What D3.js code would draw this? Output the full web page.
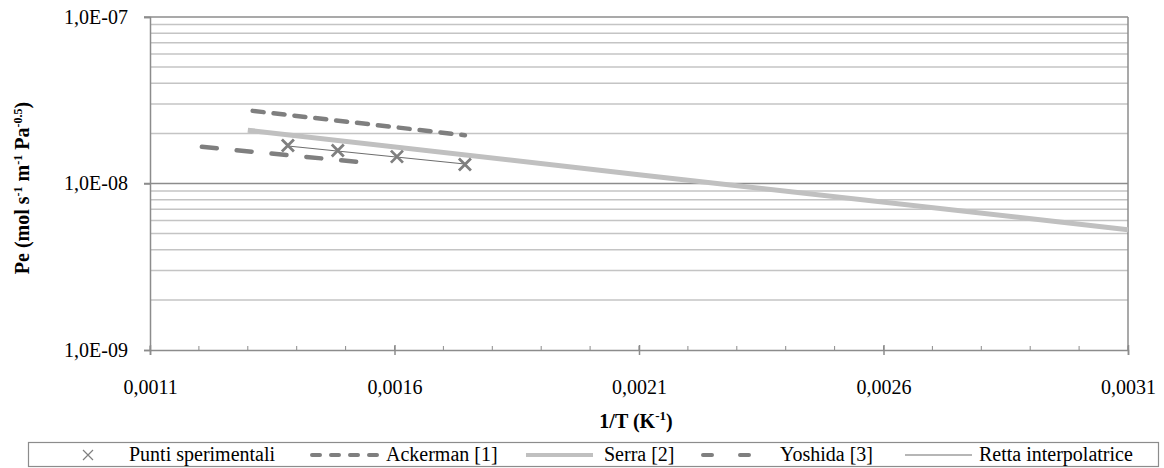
<!DOCTYPE html>
<html>
<head>
<meta charset="utf-8">
<script src="https://cdn.jsdelivr.net/npm/d3@7"></script>
<style>
  body { margin: 0; background: #fff; }
</style>
</head>
<body>
<svg id="chart"></svg>
<script>
// data
var xTicks = [0.0011, 0.0016, 0.0021, 0.0026, 0.0031],
  yTicks = [1e-9, 1e-8, 1e-7],
  puntiX = [0.001382, 0.001484, 0.001605, 0.001744],
  puntiY = [1.69e-8, 1.58e-8, 1.45e-8, 1.30e-8],
  rettaX = [0.001382, 0.001744],
  rettaY = [1.68e-8, 1.31e-8],
  ackermanX = [0.00131, 0.001744],
  ackermanY = [2.73e-8, 1.95e-8],
  serraX = [0.0013, 0.0021, 0.0031],
  serraY = [2.09e-8, 1.13e-8, 5.28e-9],
  yoshidaX = [0.001206, 0.001534],
  yoshidaY = [1.66e-8, 1.34e-8];

var FONT = 'Liberation Serif, DejaVu Serif, Times New Roman, serif';

var width = 1164,
  height = 468,
  margin = { top: 17, right: 36, bottom: 118, left: 150 },
  svg = d3.select('#chart').attr('width', width).attr('height', height)
    .attr('font-family', FONT);

var x = d3.scaleLinear().domain([0.0011, 0.0031]).range([margin.left, width - margin.right]),
  y = d3.scaleLog().domain([1e-9, 1e-7]).range([height - margin.bottom, margin.top]);

var fmtX = (d) => d3.format('.4f')(d).replace('.', ','),
  fmtY = (d) => '1,0E-' + String(-Math.round(Math.log10(d))).padStart(2, '0');

// minor gridlines 2..9 per decade
var minor = [];
[1e-9, 1e-8].forEach((b) => { for (var k = 2; k <= 9; k++) minor.push(b * k); });

svg.append('g').selectAll('line').data(minor).enter().append('line')
  .attr('x1', x.range()[0]).attr('x2', x.range()[1])
  .attr('y1', (d) => y(d)).attr('y2', (d) => y(d))
  .attr('stroke', '#c4c4c4').attr('stroke-width', 1.5);

svg.append('g').selectAll('line').data(yTicks.slice(1)).enter().append('line')
  .attr('x1', x.range()[0] - 6).attr('x2', x.range()[1])
  .attr('y1', (d) => y(d)).attr('y2', (d) => y(d))
  .attr('stroke', '#8c8c8c').attr('stroke-width', 1.5);

// right border
svg.append('line')
  .attr('x1', x.range()[1]).attr('x2', x.range()[1])
  .attr('y1', y.range()[1]).attr('y2', y.range()[0])
  .attr('stroke', '#8c8c8c').attr('stroke-width', 1.5);

// y axis
var yAxis = d3.axisLeft(y).tickValues(yTicks).tickFormat(fmtY).tickSize(6).tickPadding(16);
var gy = svg.append('g').attr('transform', 'translate(' + margin.left + ',0)').call(yAxis)
  .attr('font-family', FONT).attr('font-size', 20);
gy.select('.domain').attr('stroke', '#8c8c8c').attr('stroke-width', 1.5);
gy.selectAll('.tick line').attr('stroke', '#8c8c8c').attr('stroke-width', 1.5);

// x axis, minor ticks inward
var xMinor = d3.range(11, 32).map((k) => k / 10000);
var baseY = y.range()[0];
svg.append('g').selectAll('line').data(xMinor).enter().append('line')
  .attr('x1', (d) => x(d)).attr('x2', (d) => x(d))
  .attr('y1', baseY).attr('y2', baseY - 4)
  .attr('stroke', '#8c8c8c').attr('stroke-width', 1);

var xAxis = d3.axisBottom(x).tickValues(xTicks).tickFormat(fmtX).tickSize(5).tickPadding(25);
var gx = svg.append('g').attr('transform', 'translate(0,' + baseY + ')').call(xAxis)
  .attr('font-family', FONT).attr('font-size', 20);
gx.select('.domain').attr('stroke', '#8c8c8c').attr('stroke-width', 1.5);
gx.selectAll('.tick line').attr('y1', -5).attr('stroke', '#8c8c8c').attr('stroke-width', 1.5);

// series
var line = d3.line().x((d) => x(d[0])).y((d) => y(d[1]));
var zip = (a, b) => a.map((v, i) => [v, b[i]]);

svg.append('path').datum(zip(serraX, serraY)).attr('d', line)
  .attr('fill', 'none').attr('stroke', '#c0c0c0').attr('stroke-width', 5);

svg.append('path').datum(zip(ackermanX, ackermanY)).attr('d', line)
  .attr('fill', 'none').attr('stroke', '#7f7f7f').attr('stroke-width', 4.5)
  .attr('stroke-linecap', 'round').attr('stroke-dasharray', '11,10');

svg.append('path').datum(zip(yoshidaX, yoshidaY)).attr('d', line)
  .attr('fill', 'none').attr('stroke', '#7f7f7f').attr('stroke-width', 4.5)
  .attr('stroke-linecap', 'round').attr('stroke-dasharray', '15,20');

svg.append('path').datum(zip(rettaX, rettaY)).attr('d', line)
  .attr('fill', 'none').attr('stroke', '#6e6e6e').attr('stroke-width', 1.2);

var cross = (s) => 'M' + -s + ',' + -s + 'L' + s + ',' + s + 'M' + -s + ',' + s + 'L' + s + ',' + -s;
svg.append('g').selectAll('path').data(zip(puntiX, puntiY)).enter().append('path')
  .attr('transform', (d) => 'translate(' + x(d[0]) + ',' + y(d[1]) + ')')
  .attr('d', cross(6)).attr('fill', 'none').attr('stroke', '#7f7f7f').attr('stroke-width', 2.8);

// axis titles
svg.append('text')
  .attr('x', 636).attr('y', 428)
  .attr('text-anchor', 'middle').attr('font-size', 20).attr('font-weight', 'bold')
  .html('1/T (K<tspan dy="-8" font-size="13">-1</tspan><tspan dy="8">)</tspan>');

svg.append('text')
  .attr('transform', 'translate(29,188) rotate(-90)')
  .attr('text-anchor', 'middle').attr('font-size', 20).attr('font-weight', 'bold')
  .html('Pe (mol s<tspan dy="-7" font-size="12">-1</tspan><tspan dy="7"> m</tspan>' +
    '<tspan dy="-7" font-size="12">-1</tspan><tspan dy="7"> Pa</tspan>' +
    '<tspan dy="-7" font-size="12">-0.5</tspan><tspan dy="7">)</tspan>');

// legend
var legendNames = ['Punti sperimentali', 'Ackerman [1]', 'Serra [2]', 'Yoshida [3]', 'Retta interpolatrice'];
var legendSampleX = [76, 310, 526, 701, 905],
  legendTextX = [129, 386, 604, 780, 979];
var lg = svg.append('g');
lg.append('rect').attr('x', 28.5).attr('y', 442.5).attr('width', 1130).attr('height', 24)
  .attr('fill', '#fff').attr('stroke', '#8c8c8c').attr('stroke-width', 1.2);
var ly = 455;
lg.append('path').attr('transform', 'translate(' + (legendSampleX[0] + 12) + ',' + ly + ')')
  .attr('d', cross(5)).attr('fill', 'none').attr('stroke', '#7f7f7f').attr('stroke-width', 1.2);
lg.append('line').attr('x1', legendSampleX[1] + 2).attr('x2', legendSampleX[1] + 70).attr('y1', ly).attr('y2', ly)
  .attr('stroke', '#7f7f7f').attr('stroke-width', 4).attr('stroke-linecap', 'round').attr('stroke-dasharray', '8,11');
lg.append('line').attr('x1', legendSampleX[2]).attr('x2', legendSampleX[2] + 67).attr('y1', ly).attr('y2', ly)
  .attr('stroke', '#c0c0c0').attr('stroke-width', 4);
lg.append('line').attr('x1', legendSampleX[3] + 2).attr('x2', legendSampleX[3] + 54).attr('y1', ly).attr('y2', ly)
  .attr('stroke', '#7f7f7f').attr('stroke-width', 4).attr('stroke-linecap', 'round').attr('stroke-dasharray', '9,28');
lg.append('line').attr('x1', legendSampleX[4]).attr('x2', legendSampleX[4] + 67).attr('y1', ly).attr('y2', ly)
  .attr('stroke', '#6e6e6e').attr('stroke-width', 1.2);
lg.selectAll('text.name').data(legendNames).enter().append('text').attr('class', 'name')
  .attr('x', (d, i) => legendTextX[i]).attr('y', ly + 6).attr('font-size', 20)
  .attr('font-family', FONT).text((d) => d);
</script>
</body>
</html>
